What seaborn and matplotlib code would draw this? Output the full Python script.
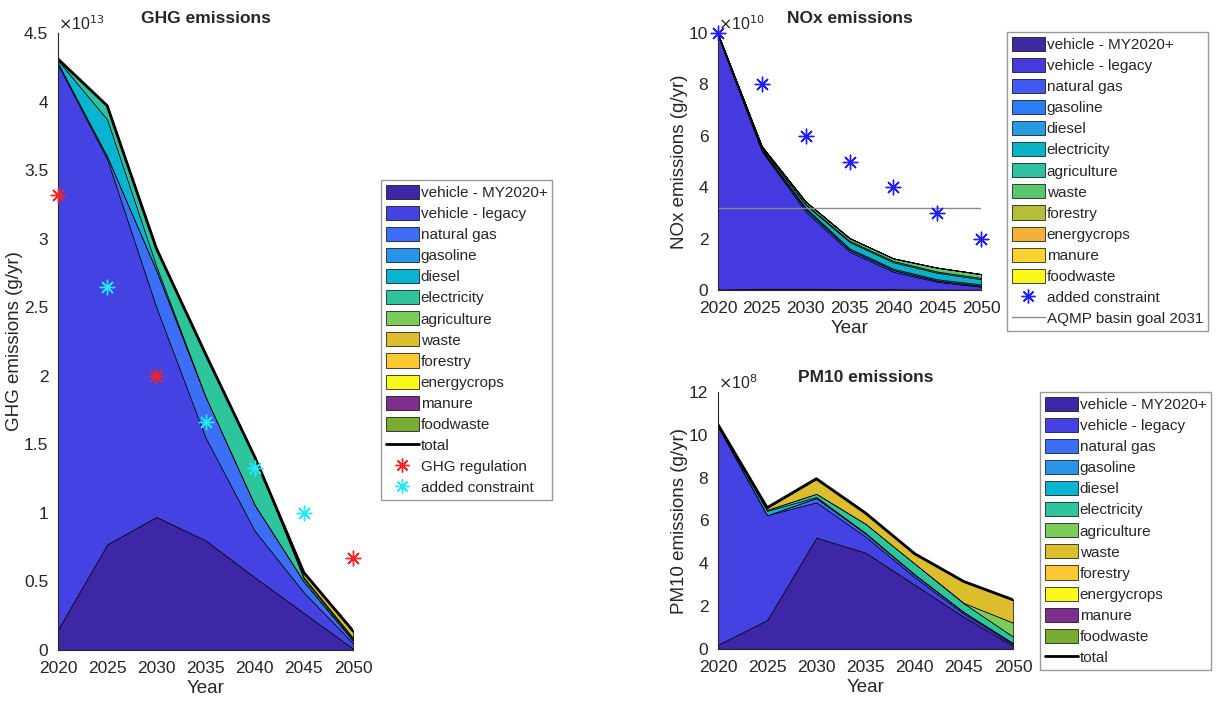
import numpy as np
import pandas as pd
import matplotlib
matplotlib.use('Agg')
import matplotlib.pyplot as plt
import seaborn as sns
from matplotlib.ticker import FuncFormatter
from matplotlib.lines import Line2D

sns.set_style('white')
plt.rcParams['font.family'] = ['Liberation Sans', 'DejaVu Sans']

years = [2020, 2025, 2030, 2035, 2040, 2045, 2050]
sources = ['vehicle - MY2020+', 'vehicle - legacy', 'natural gas', 'gasoline', 'diesel',
           'electricity', 'agriculture', 'waste', 'forestry', 'energycrops', 'manure', 'foodwaste']

# GHG, units of 1e13 g/yr
ghg_my2020 = [0.15, 0.77, 0.97, 0.80, 0.53, 0.27, 0.01]
ghg_legacy = [4.12, 2.81, 1.53, 0.75, 0.34, 0.15, 0.04]
ghg_natgas = [0.01, 0.02, 0.27, 0.30, 0.19, 0.08, 0.02]
ghg_gasoline = [0, 0, 0, 0, 0, 0, 0]
ghg_diesel = [0.02, 0.27, 0.03, 0, 0, 0, 0]
ghg_electricity = [0.01, 0.10, 0.13, 0.31, 0.35, 0.02, 0.01]
ghg_agriculture = [0, 0, 0, 0, 0, 0.01, 0.01]
ghg_waste = [0, 0, 0, 0, 0, 0.03, 0.04]
ghg_forestry = [0, 0, 0, 0, 0, 0.005, 0.01]
ghg_energycrops = [0, 0, 0, 0, 0, 0, 0]
ghg_manure = [0, 0, 0, 0, 0, 0, 0]
ghg_foodwaste = [0, 0, 0, 0, 0, 0, 0]
ghg_reg_years = [2020, 2030, 2050]
ghg_reg = [3.32, 2.0, 0.67]
ghg_con_years = [2025, 2035, 2040, 2045]
ghg_con = [2.65, 1.66, 1.33, 1.0]

# NOx, units of 1e10 g/yr
nox_my2020 = [0.02, 0.05, 0.05, 0.04, 0.03, 0.02, 0.01]
nox_legacy = [9.88, 5.35, 3.0, 1.45, 0.68, 0.30, 0.12]
nox_natgas = [0, 0.05, 0.10, 0.08, 0.07, 0.05, 0.04]
nox_gasoline = [0, 0, 0, 0, 0, 0, 0]
nox_diesel = [0, 0.03, 0.05, 0.05, 0.05, 0.05, 0.05]
nox_electricity = [0.05, 0.06, 0.12, 0.25, 0.25, 0.25, 0.20]
nox_agriculture = [0, 0, 0.02, 0.05, 0.05, 0.05, 0.05]
nox_waste = [0.02, 0.05, 0.10, 0.10, 0.10, 0.15, 0.15]
nox_forestry = [0, 0, 0, 0, 0, 0, 0]
nox_energycrops = [0, 0, 0, 0, 0, 0, 0]
nox_manure = [0, 0, 0, 0, 0, 0, 0]
nox_foodwaste = [0, 0, 0, 0, 0, 0, 0]
nox_con = [10, 8, 6, 5, 4, 3, 2]
nox_goal = 3.2

# PM10, units of 1e8 g/yr
pm_my2020 = [0.2, 1.35, 5.2, 4.5, 3.0, 1.5, 0.15]
pm_legacy = [10.2, 4.9, 1.65, 0.75, 0.35, 0.15, 0.08]
pm_natgas = [0, 0, 0.2, 0.15, 0.12, 0.08, 0.05]
pm_gasoline = [0, 0, 0, 0, 0, 0, 0]
pm_diesel = [0.05, 0.2, 0.05, 0.02, 0.02, 0, 0]
pm_electricity = [0, 0.05, 0.15, 0.43, 0.5, 0.4, 0.3]
pm_agriculture = [0, 0, 0, 0, 0, 0.02, 0.65]
pm_waste = [0.03, 0.1, 0.7, 0.5, 0.46, 1.0, 1.07]
pm_forestry = [0, 0, 0, 0, 0, 0, 0]
pm_energycrops = [0, 0, 0, 0, 0, 0, 0]
pm_manure = [0, 0, 0, 0, 0, 0, 0]
pm_foodwaste = [0, 0, 0, 0, 0, 0, 0]

ghg = [ghg_my2020, ghg_legacy, ghg_natgas, ghg_gasoline, ghg_diesel, ghg_electricity,
       ghg_agriculture, ghg_waste, ghg_forestry, ghg_energycrops, ghg_manure, ghg_foodwaste]
nox = [nox_my2020, nox_legacy, nox_natgas, nox_gasoline, nox_diesel, nox_electricity,
       nox_agriculture, nox_waste, nox_forestry, nox_energycrops, nox_manure, nox_foodwaste]
pm = [pm_my2020, pm_legacy, pm_natgas, pm_gasoline, pm_diesel, pm_electricity,
      pm_agriculture, pm_waste, pm_forestry, pm_energycrops, pm_manure, pm_foodwaste]

colors_a = ['#3d27a6', '#4442e2', '#3c6ef8', '#2a95e8', '#08b4d0', '#2ec49c',
            '#7ccc5c', '#dcbd2c', '#fcc831', '#f8f81a', '#7e2f8e', '#77ac30']
colors_b = ['#3b2aa2', '#4539e0', '#4258f5', '#2d7bf5', '#269be0', '#0cb2c8',
            '#2fc0a0', '#5cc66e', '#b4be3a', '#f3b03a', '#f8d22e', '#f8f81a']

star = (8, 2, 0)
tick_col = '#262626'

fig = plt.figure(figsize=(12.25, 7.02), dpi=100)
ax1 = fig.add_axes([58/1225, 52/702, 295/1225, 617/702])
ax2 = fig.add_axes([718/1225, 412/702, 263/1225, 257/702])
ax3 = fig.add_axes([718/1225, 53/702, 295/1225, 257/702])


def style_axes(ax, ymax, ystep, title, ylabel, exp):
    ax.set_xlim(2020, 2050)
    ax.set_ylim(0, ymax)
    ax.set_xticks(years)
    ax.set_yticks(np.arange(0, ymax + ystep / 2, ystep))
    ax.yaxis.set_major_formatter(FuncFormatter(lambda v, p: '%g' % v))
    ax.tick_params(direction='in', length=3, labelsize=12.5, colors=tick_col)
    ax.tick_params(axis='y', pad=7)
    ax.tick_params(axis='x', pad=8)
    for s in ['top', 'right']:
        ax.spines[s].set_visible(False)
    for s in ['left', 'bottom']:
        ax.spines[s].set_color(tick_col)
        ax.spines[s].set_linewidth(0.8)
    ax.set_title(title, fontsize=12.5, fontweight='bold', pad=7)
    ax.set_xlabel('Year', fontsize=13.5, color=tick_col, labelpad=3)
    ax.set_ylabel(ylabel, fontsize=13.5, color=tick_col, labelpad=1)
    ax.text(0.0, 1.0, r'$\times$10$^{%d}$' % exp, transform=ax.transAxes, ha='left', va='bottom',
            fontsize=11.5, color=tick_col)
    ax.set_facecolor('white')


def draw_stack(ax, layers, colors):
    polys = ax.stackplot(years, *layers, labels=sources, colors=colors,
                         edgecolor='black', linewidth=0.5)
    return polys


leg_kw = dict(fontsize=11, frameon=True, fancybox=False, edgecolor='#999999', framealpha=1,
              handlelength=2.2, handleheight=1.05, handletextpad=0.1, labelspacing=0.38,
              borderpad=0.3, borderaxespad=0, loc='upper left')

# GHG
polys = draw_stack(ax1, ghg, colors_a)
ghg_total = np.sum(np.array(ghg), axis=0)
sns.lineplot(x=years, y=ghg_total, ax=ax1, color='black', linewidth=2, legend=False)
sns.scatterplot(x=ghg_reg_years, y=ghg_reg, ax=ax1, marker=star, s=110, color='#ff2020',
                linewidth=1, edgecolor='#ff2020', clip_on=False, zorder=5, legend=False)
sns.scatterplot(x=ghg_con_years, y=ghg_con, ax=ax1, marker=star, s=110, color='#20e8ff',
                linewidth=1, edgecolor='#20e8ff', clip_on=False, zorder=5, legend=False)
style_axes(ax1, 4.5, 0.5, 'GHG emissions', 'GHG emissions (g/yr)', 13)
h = list(polys) + [Line2D([], [], color='black', lw=2),
                   Line2D([], [], marker=star, color='#ff2020', ls='', ms=10),
                   Line2D([], [], marker=star, color='#20e8ff', ls='', ms=10)]
fig.legend(h, sources + ['total', 'GHG regulation', 'added constraint'],
           bbox_to_anchor=(381/1225, 1 - 180/702), bbox_transform=fig.transFigure, **leg_kw)

# NOx
polys = draw_stack(ax2, nox, colors_b)
sns.scatterplot(x=years, y=nox_con, ax=ax2, marker=star, s=110, color='#2020ff',
                linewidth=1, edgecolor='#2020ff', clip_on=False, zorder=5, legend=False)
ax2.plot([2020, 2050], [nox_goal, nox_goal], color='#8a8a8a', lw=1)
style_axes(ax2, 10, 2, 'NOx emissions', 'NOx emissions (g/yr)', 10)
h = list(polys) + [Line2D([], [], marker=star, color='#2020ff', ls='', ms=10),
                   Line2D([], [], color='#8a8a8a', lw=1)]
fig.legend(h, sources + ['added constraint', 'AQMP basin goal 2031'],
           bbox_to_anchor=(1007/1225, 1 - 32/702), bbox_transform=fig.transFigure, **leg_kw)

# PM10
polys = draw_stack(ax3, pm, colors_a)
pm_total = np.sum(np.array(pm), axis=0)
sns.lineplot(x=years, y=pm_total, ax=ax3, color='black', linewidth=2, legend=False)
style_axes(ax3, 12, 2, 'PM10 emissions', 'PM10 emissions (g/yr)', 8)
h = list(polys) + [Line2D([], [], color='black', lw=2)]
fig.legend(h, sources + ['total'],
           bbox_to_anchor=(1040/1225, 1 - 392/702), bbox_transform=fig.transFigure, **leg_kw)

for ax in [ax1, ax2, ax3]:
    if ax.get_legend() is not None:
        ax.get_legend().remove()

fig.savefig('out.png', dpi=100, facecolor='white')
